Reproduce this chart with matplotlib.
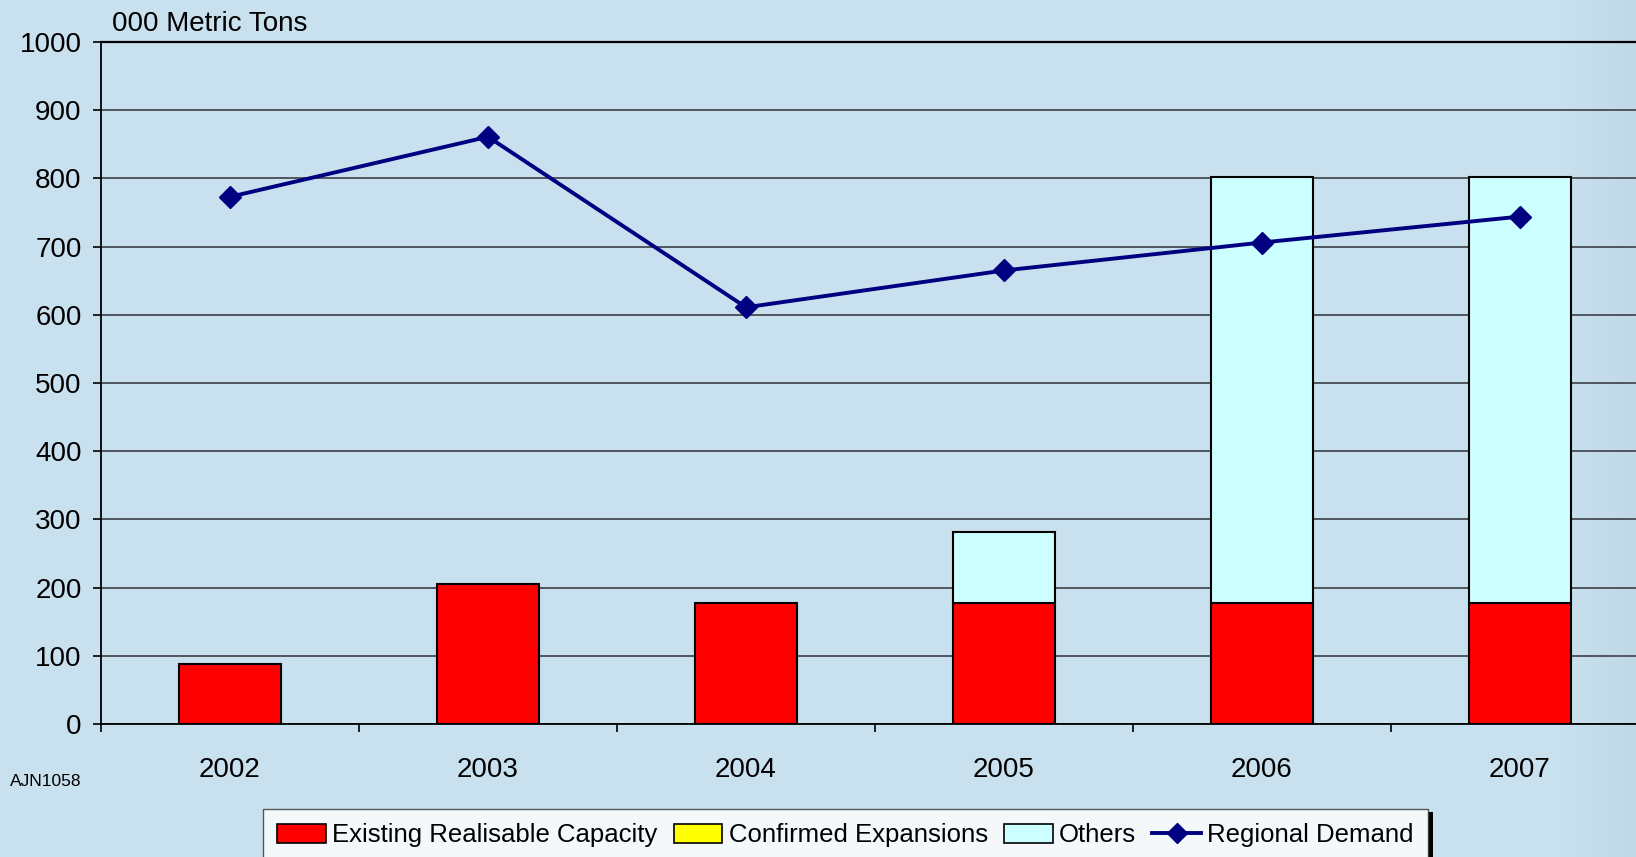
import matplotlib
matplotlib.use("Agg")
import matplotlib.pyplot as plt
import numpy as np
from matplotlib.patches import Patch, Rectangle
from matplotlib.lines import Line2D

years = ["2002", "2003", "2004", "2005", "2006", "2007"]
existing = [88, 205, 178, 178, 178, 178]
confirmed = [0, 0, 0, 0, 0, 0]
others = [0, 0, 0, 104, 624, 624]
demand = [773, 861, 611, 665, 706, 744]

plt.rcParams['font.family'] = ['Liberation Sans', 'DejaVu Sans']
bg = '#C9E0EE'

W, H = 1636, 857
fig = plt.figure(figsize=(W/100, H/100), dpi=100, facecolor=bg)

# subtle background gradient at right edge
bgax = fig.add_axes([0, 0, 1, 1], zorder=-10)
grad = np.ones((2, W, 3))
base = np.array([0xC9, 0xE0, 0xEE]) / 255.0
dark = np.array([0xC1, 0xD8, 0xE6]) / 255.0
t = np.clip((np.arange(W) - 1560) / (W - 1560), 0, 1)
grad[:] = base[None, None, :] * (1 - t)[None, :, None] + dark[None, None, :] * t[None, :, None]
bgax.imshow(grad, aspect='auto', extent=[0, 1, 0, 1])
bgax.axis('off')

ax = fig.add_axes([101/W, 133/H, 1548/W, 682/H])
ax.patch.set_alpha(0)

x = np.arange(len(years))
w = 0.395
ax.bar(x, existing, w, color='#FF0000', edgecolor='black', linewidth=1.5, zorder=3)
ax.bar(x, confirmed, w, bottom=existing, color='#FFFF00', edgecolor='black', linewidth=0, zorder=3)
bot2 = [a + b for a, b in zip(existing, confirmed)]
mask = [o > 0 for o in others]
ax.bar(x[mask], np.array(others)[mask], w, bottom=np.array(bot2)[mask], color='#CCFFFF',
       edgecolor='black', linewidth=1.5, zorder=3)
ax.plot(x, demand, color='#000080', linewidth=2.8, marker='D', markersize=11, zorder=4)

ax.set_xlim(-0.5, 5.5)
ax.set_ylim(0, 1000)
ax.set_yticks(range(0, 1001, 100))
ax.yaxis.grid(True, color='#50565E', linewidth=1.4, zorder=1)
ax.set_axisbelow(True)
ax.set_xticks(np.arange(-0.5, 5.6, 1.0))
ax.set_xticklabels([])
ax.set_xticks(x, minor=True)
ax.set_xticklabels(years, minor=True)
ax.tick_params(axis='x', which='minor', length=0, pad=24, labelsize=20)
ax.tick_params(axis='x', which='major', length=6, width=1.2, direction='out')
ax.tick_params(axis='y', length=6, width=1.2, direction='out', labelsize=20, pad=8)
for s in ['top', 'right']:
    ax.spines[s].set_visible(False)
ax.spines['left'].set_linewidth(1.3)
ax.spines['bottom'].set_linewidth(1.3)
ax.axhline(1000, color='black', linewidth=1.6, zorder=2, clip_on=False)

fig.text(112/W, 1 - 24/H, '000 Metric Tons', fontsize=20, va='center', ha='left')
fig.text(10/W, 1 - 782/H, 'AJN1058', fontsize=12.5, va='center', ha='left')

handles = [Patch(facecolor='#FF0000', edgecolor='black', linewidth=1.2),
           Patch(facecolor='#FFFF00', edgecolor='black', linewidth=1.2),
           Patch(facecolor='#CCFFFF', edgecolor='black', linewidth=1.2),
           Line2D([], [], color='#000080', linewidth=2.8, marker='D', markersize=10)]
labels = ['Existing Realisable Capacity', 'Confirmed Expansions', 'Others', 'Regional Demand']
leg = fig.legend(handles, labels, loc='upper left', bbox_to_anchor=(263/W, 1 - 809/H),
                 ncol=4, fontsize=18.5, frameon=True, fancybox=False, edgecolor='#333333',
                 handlelength=1.9, handleheight=0.75, handletextpad=0.25, columnspacing=0.62,
                 borderpad=0.55, borderaxespad=0)
leg.get_frame().set_facecolor('white')
leg.get_frame().set_linewidth(1.0)
leg.set_zorder(10)

fig.canvas.draw()
bb = leg.get_window_extent()
fig.add_artist(Rectangle((bb.x1 / W, 0), 5/W, (bb.y1 - 3) / H, transform=fig.transFigure,
                         facecolor='black', edgecolor='none', zorder=9))

fig.savefig('out.png', dpi=100, facecolor=bg)
